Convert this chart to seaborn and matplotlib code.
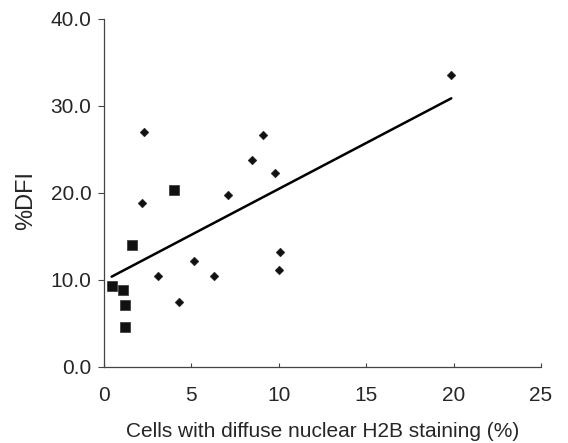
import numpy as np
import pandas as pd
import matplotlib
matplotlib.use("Agg")
import matplotlib.pyplot as plt
import seaborn as sns

# Data
diamond_x = [19.83, 2.30, 9.11, 8.46, 9.77, 7.07, 2.18, 5.17, 10.06, 10.00, 3.07, 6.31, 4.27]
diamond_y = [33.6, 27.0, 26.7, 23.8, 22.3, 19.8, 18.9, 12.2, 13.2, 11.15, 10.45, 10.45, 7.5]
square_x = [4.00, 1.62, 0.48, 1.08, 1.20, 1.20]
square_y = [20.3, 14.0, 9.3, 8.85, 7.15, 4.6]
trend_x = [0.44, 19.87]
trend_y = [10.38, 30.88]

x_ticks = [0, 5, 10, 15, 20, 25]
y_ticks = [0.0, 10.0, 20.0, 30.0, 40.0]

sns.set_theme(style="white")
plt.rcParams["font.family"] = ["Liberation Sans", "DejaVu Sans"]

fig = plt.figure(figsize=(5.68, 4.43), dpi=100)
ax = fig.add_axes([0.183, 0.1716, 0.7694, 0.7856])

df_d = pd.DataFrame({"x": diamond_x, "y": diamond_y})
df_s = pd.DataFrame({"x": square_x, "y": square_y})
df_t = pd.DataFrame({"x": trend_x, "y": trend_y})

sns.lineplot(data=df_t, x="x", y="y", ax=ax, color="#000000", linewidth=1.8)
sns.scatterplot(data=df_d, x="x", y="y", ax=ax, marker="D", s=20,
                color="#111111", edgecolor="#111111", linewidth=0.3, zorder=3)
sns.scatterplot(data=df_s, x="x", y="y", ax=ax, marker="s", s=46,
                color="#111111", edgecolor="#333333", linewidth=0.5, zorder=3)

ax.set_xlim(0, 25)
ax.set_ylim(0, 40)
ax.set_xticks(x_ticks)
ax.set_xticklabels([str(v) for v in x_ticks])
ax.set_yticks(y_ticks)
ax.set_yticklabels([f"{v:.1f}" for v in y_ticks])

for s in ["top", "right"]:
    ax.spines[s].set_visible(False)
for s in ["left", "bottom"]:
    ax.spines[s].set_color("#444444")
    ax.spines[s].set_linewidth(0.9)

ax.tick_params(axis="x", direction="in", length=3, width=0.8, color="#444444",
               labelsize=15, pad=14, bottom=True)
ax.tick_params(axis="y", direction="out", length=4, width=0.8, color="#444444",
               labelsize=15, pad=5, left=True)

ax.set_xlabel("Cells with diffuse nuclear H2B staining (%)", fontsize=15, labelpad=12)
ax.set_ylabel("%DFI", fontsize=17)
ax.yaxis.set_label_coords(-0.152, 0.477)

fig.savefig("out.png", dpi=100)
